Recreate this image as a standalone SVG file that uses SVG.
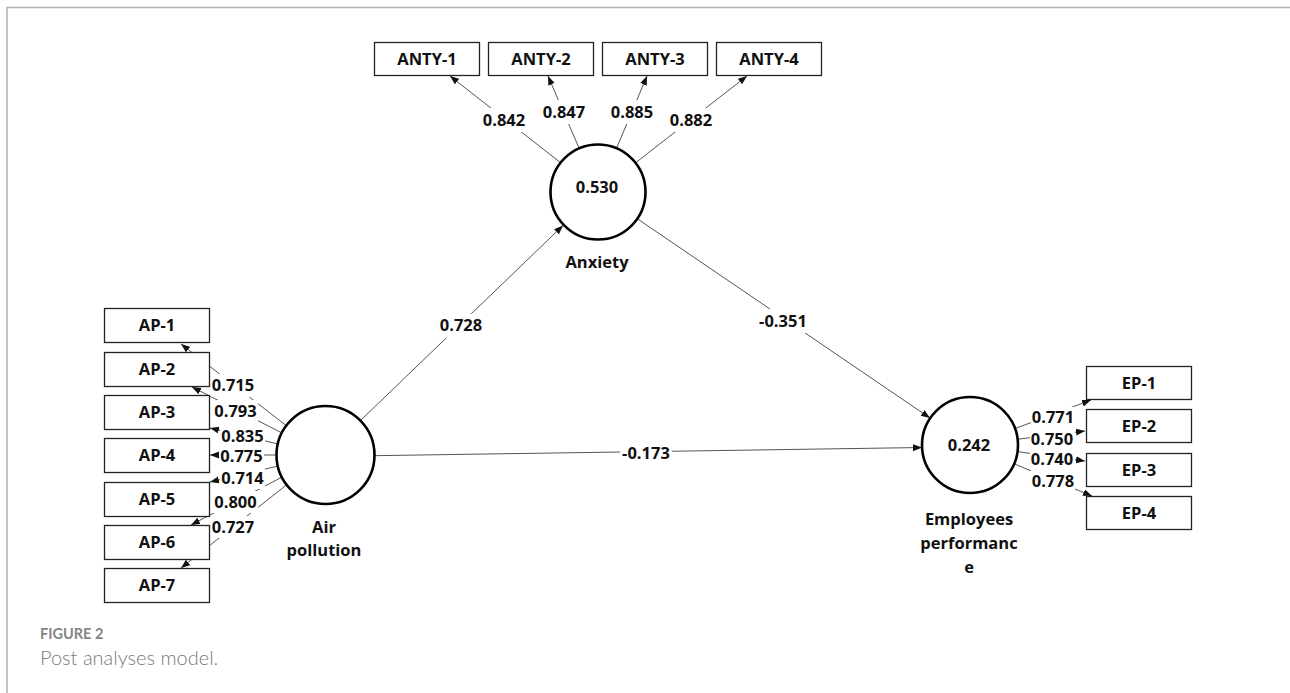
<svg xmlns="http://www.w3.org/2000/svg" width="1290" height="693" viewBox="0 0 1290 693">
<style>
.frame{stroke:#b0b0b0;stroke-width:1.5;fill:none}
.box{fill:#fff;stroke:#222;stroke-width:1.3}
.lv{fill:#fff;stroke:#000;stroke-width:2.6}
.ln{stroke:#555;stroke-width:1;fill:none;marker-end:url(#ah)}
.bg{fill:#fff}
.t{font-family:"Open Sans","Noto Sans","Liberation Sans",sans-serif;font-weight:700;font-size:16.5px;fill:#111;text-anchor:middle}
.cap1{font-family:Lato,"Open Sans",sans-serif;font-weight:700;font-size:14.5px;fill:#858585}
.cap2{font-family:Lato,"Open Sans",sans-serif;font-weight:300;font-size:20px;fill:#7a7a7a}
</style>
<defs>
<marker id="ah" markerUnits="userSpaceOnUse" markerWidth="10" markerHeight="8" refX="9" refY="3.5" orient="auto">
<path d="M0,0 L9,3.5 L0,7 z" fill="#111"/>
</marker>
</defs>
<path class="frame" d="M7,1000 L7,7.5 L1290,7.5"/>

<g id="connectors">
<line class="ln" x1="560.2" y1="162.4" x2="450" y2="76"/>
<line class="ln" x1="579" y1="148" x2="548" y2="76"/>
<line class="ln" x1="616.7" y1="147.8" x2="647" y2="76"/>
<line class="ln" x1="635.9" y1="162.5" x2="747" y2="76"/>
<line class="ln" x1="286" y1="425.4" x2="181" y2="344"/>
<line class="ln" x1="281.4" y1="432.7" x2="192" y2="387"/>
<line class="ln" x1="277.3" y1="443.8" x2="210" y2="428"/>
<line class="ln" x1="276" y1="455" x2="210" y2="455"/>
<line class="ln" x1="277.3" y1="466.2" x2="210" y2="482"/>
<line class="ln" x1="281.4" y1="477.4" x2="191" y2="525"/>
<line class="ln" x1="286.3" y1="485.1" x2="181" y2="568"/>
<line class="ln" x1="1015" y1="428.6" x2="1091" y2="400"/>
<line class="ln" x1="1017.7" y1="439.2" x2="1085" y2="431"/>
<line class="ln" x1="1017.5" y1="451.6" x2="1085" y2="461"/>
<line class="ln" x1="1014" y1="463.8" x2="1092" y2="496"/>
<line class="ln" x1="360" y1="421" x2="563" y2="225.5"/>
<line class="ln" x1="637.7" y1="219" x2="930" y2="418"/>
<line class="ln" x1="374" y1="455.7" x2="922" y2="447.5"/>
<g id="label-bg">
<rect class="bg" x="481" y="108" width="46" height="24"/>
<rect class="bg" x="541" y="100" width="46" height="24"/>
<rect class="bg" x="609" y="100" width="46" height="24"/>
<rect class="bg" x="668" y="108" width="46" height="24"/>
<rect class="bg" x="211" y="374" width="45" height="23"/>
<rect class="bg" x="213" y="400" width="45" height="22"/>
<rect class="bg" x="220" y="425" width="45" height="22"/>
<rect class="bg" x="219" y="446" width="45" height="20"/>
<rect class="bg" x="220" y="467" width="45" height="22"/>
<rect class="bg" x="213" y="491" width="45" height="22"/>
<rect class="bg" x="211" y="516" width="45" height="22"/>
<rect class="bg" x="1031" y="407" width="44" height="21"/>
<rect class="bg" x="1030" y="429" width="45" height="20"/>
<rect class="bg" x="1030" y="449" width="45" height="20"/>
<rect class="bg" x="1031" y="470" width="44" height="22"/>
<rect class="bg" x="438" y="314" width="46" height="24"/>
<rect class="bg" x="757" y="309" width="52" height="24"/>
<rect class="bg" x="620" y="442" width="52" height="22"/>
</g>
<g id="labels">
<text class="t" x="504" y="126">0.842</text>
<text class="t" x="564" y="118">0.847</text>
<text class="t" x="632" y="118">0.885</text>
<text class="t" x="691" y="126">0.882</text>
<text class="t" x="233" y="391">0.715</text>
<text class="t" x="235.5" y="417">0.793</text>
<text class="t" x="242.5" y="442">0.835</text>
<text class="t" x="241.5" y="462">0.775</text>
<text class="t" x="242.5" y="484">0.714</text>
<text class="t" x="235.5" y="508">0.800</text>
<text class="t" x="233" y="533">0.727</text>
<text class="t" x="1053" y="423">0.771</text>
<text class="t" x="1052" y="445">0.750</text>
<text class="t" x="1052" y="465">0.740</text>
<text class="t" x="1053" y="487">0.778</text>
<text class="t" x="461" y="331">0.728</text>
<text class="t" x="783" y="327">-0.351</text>
<text class="t" x="646" y="459">-0.173</text>
</g>
</g>

<g id="anty1"><rect class="box" x="374.5" y="42.5" width="105" height="33"/><text class="t" x="427" y="64.5">ANTY-1</text></g>
<g id="anty2"><rect class="box" x="488.5" y="42.5" width="105" height="33"/><text class="t" x="541" y="64.5">ANTY-2</text></g>
<g id="anty3"><rect class="box" x="602.5" y="42.5" width="105" height="33"/><text class="t" x="655" y="64.5">ANTY-3</text></g>
<g id="anty4"><rect class="box" x="716.5" y="42.5" width="105" height="33"/><text class="t" x="769" y="64.5">ANTY-4</text></g>

<g id="ap1"><rect class="box" x="104.5" y="308.5" width="105" height="34"/><text class="t" x="157" y="331">AP-1</text></g>
<g id="ap2"><rect class="box" x="104.5" y="352.5" width="105" height="34"/><text class="t" x="157" y="375">AP-2</text></g>
<g id="ap3"><rect class="box" x="104.5" y="395.5" width="105" height="34"/><text class="t" x="157" y="418">AP-3</text></g>
<g id="ap4"><rect class="box" x="104.5" y="438.5" width="105" height="34"/><text class="t" x="157" y="461">AP-4</text></g>
<g id="ap5"><rect class="box" x="104.5" y="482.5" width="105" height="34"/><text class="t" x="157" y="505">AP-5</text></g>
<g id="ap6"><rect class="box" x="104.5" y="525.5" width="105" height="34"/><text class="t" x="157" y="548">AP-6</text></g>
<g id="ap7"><rect class="box" x="104.5" y="568.5" width="105" height="34"/><text class="t" x="157" y="591">AP-7</text></g>

<g id="ep1"><rect class="box" x="1086.5" y="366.5" width="105" height="33"/><text class="t" x="1139" y="388.5">EP-1</text></g>
<g id="ep2"><rect class="box" x="1086.5" y="409.5" width="105" height="33"/><text class="t" x="1139" y="431.5">EP-2</text></g>
<g id="ep3"><rect class="box" x="1086.5" y="453.5" width="105" height="33"/><text class="t" x="1139" y="475.5">EP-3</text></g>
<g id="ep4"><rect class="box" x="1086.5" y="496.5" width="105" height="33"/><text class="t" x="1139" y="518.5">EP-4</text></g>

<g id="anxiety"><circle class="lv" cx="598" cy="192" r="47.5"/><text class="t" x="597" y="193">0.530</text><text class="t" x="597" y="268">Anxiety</text></g>
<g id="air-pollution"><circle class="lv" cx="325.5" cy="455" r="49"/><text class="t" x="324" y="533">Air</text><text class="t" x="324" y="556">pollution</text></g>
<g id="employees-performance"><circle class="lv" cx="970" cy="445" r="48"/><text class="t" x="969" y="451">0.242</text><text class="t" x="969" y="525">Employees</text><text class="t" x="969" y="549">performanc</text><text class="t" x="969" y="573">e</text></g>

<text class="cap1" x="40" y="639">FIGURE 2</text>
<text class="cap2" x="40" y="665">Post analyses model.</text>
</svg>
